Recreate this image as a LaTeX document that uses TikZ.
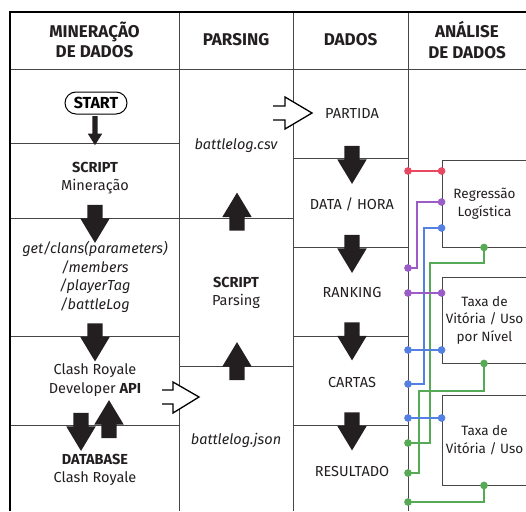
\documentclass[tikz,border=0pt]{standalone}
\usepackage{fontspec}
\setmainfont{Fira Sans}
\usetikzlibrary{shapes.arrows, arrows.meta, positioning, calc}
\definecolor{tDark}{RGB}{35, 31, 32}
\definecolor{tGrid}{RGB}{70, 70, 70}
\definecolor{lRed}{RGB}{232, 72, 96}
\definecolor{lPurple}{RGB}{156, 92, 200}
\definecolor{lBlue}{RGB}{84, 128, 226}
\definecolor{lGreen}{RGB}{86, 170, 86}

\begin{document}
\begin{tikzpicture}[
    x=1pt, y=-1pt,
    font=\fontsize{14.5}{18.5}\selectfont,
    head/.style={font=\fontsize{17}{20.5}\selectfont\bfseries, align=center, text=tDark},
    cell/.style={align=center, text=tDark},
    grid/.style={draw=tGrid, line width=0.9pt},
    frame/.style={draw=black, line width=2.4pt},
    startbox/.style={draw=black, line width=1pt, rounded corners=11pt,
        minimum width=62pt, minimum height=22pt, inner sep=0pt, font=\fontsize{16}{18}\selectfont\bfseries},
    bigarrow/.style={single arrow, fill=tDark, inner xsep=0pt, inner ysep=7.5pt,
        minimum height=38pt, minimum width=0pt, single arrow head extend=7pt,
        single arrow tip angle=62, rotate=#1},
    smallarrow/.style={single arrow, fill=tDark, inner xsep=0pt, inner ysep=2.5pt,
        minimum height=29pt, minimum width=0pt, single arrow head extend=4.5pt,
        single arrow tip angle=64, rotate=#1},
    hollow/.style={draw=black, fill=white, line width=1.3pt, line join=miter},
    resbox/.style={draw=tGrid, line width=0.9pt, align=center, text=tDark,
        minimum width=85pt, inner xsep=0pt, font=\fontsize{13.5}{17.5}\selectfont},
    link/.style={draw=#1, line width=1.9pt, {Circle[length=7.5pt]}-{Circle[length=7.5pt]},
        shorten <=-3.75pt, shorten >=-3.75pt}
]

\useasboundingbox (0,0) rectangle (526,511);
\clip (0,0) rectangle (526,511);

% Grid
\draw[grid] (10,69) -- (526,69);
\draw[grid] (179,12) -- (179,511);
\draw[grid] (293,12) -- (293,511);
\draw[grid] (408,12) -- (408,511);
\foreach \y in {143, 218, 336, 425} \draw[grid] (10,\y) -- (179,\y);
\foreach \y in {218, 366} \draw[grid] (179,\y) -- (293,\y);
\foreach \y in {158, 247, 336, 425} \draw[grid] (293,\y) -- (408,\y);
\draw[frame] (10,511) -- (10,12) -- (526,12);

% Headers
\node[head] (hMin) at (94.5,40) {MINERAÇÃO\\DE DADOS};
\node[head] (hPars) at (236,40) {PARSING};
\node[head] (hDados) at (350.5,40) {DADOS};
\node[head] (hAnal) at (467,40) {ANÁLISE\\DE DADOS};

% Mineracao de dados
\node[startbox] (start) at (96,103) {START};
\node[cell] (scrMin) at (95,178) {\textbf{SCRIPT}\\Mineração};
\node[cell, font=\fontsize{14.5}{18.5}\selectfont\itshape] (getClans) at (95,277)
    {get/clans(parameters)\\/members\\/playerTag\\/battleLog};
\node[cell] (api) at (95,380) {Clash Royale\\Developer \textbf{API}};
\node[cell] (dbase) at (95,470) {\textbf{DATABASE}\\Clash Royale};

\node[smallarrow=-90] (arrStart) at (95,128.5) {};
\node[bigarrow=-90] (arrMin) at (95,217.5) {};
\node[bigarrow=-90] (arrApi) at (95,336) {};
\node[bigarrow=-90] (arrDb) at (81,425.5) {};
\node[bigarrow=90] (arrUpDb) at (109,425.5) {};

% Parsing
\node[cell, font=\fontsize{14.5}{18.5}\selectfont\itshape] (csv) at (236,146) {battlelog.csv};
\node[cell] (scrPars) at (236,293) {\textbf{SCRIPT}\\Parsing};
\node[cell, font=\fontsize{14.5}{18.5}\selectfont\itshape] (json) at (236,440) {battlelog.json};

\node[bigarrow=90] (arrCsv) at (237,218) {};
\node[bigarrow=90] (arrPars) at (237,367.5) {};

% Dados
\node[cell] (partida) at (352,114) {PARTIDA};
\node[cell] (dataHora) at (352,204) {DATA / HORA};
\node[cell] (ranking) at (352,292) {RANKING};
\node[cell] (cartas) at (352,382) {CARTAS};
\node[cell] (resultado) at (352,471) {RESULTADO};

\node[bigarrow=-90] (arrHora) at (352,158.5) {};
\node[bigarrow=-90] (arrRank) at (352,247.5) {};
\node[bigarrow=-90] (arrCart) at (352,335) {};
\node[bigarrow=-90] (arrRes) at (352,425) {};

% hollow arrows
\draw[hollow] (273,106) -- (285,106) -- (285,97) -- (312,113) -- (285,129) -- (285,120) -- (273,120);
\draw[hollow] (162,390) -- (173,390) -- (173,382) -- (199,397) -- (173,413) -- (173,404) -- (162,404);

% Analise de dados
\node[resbox, minimum height=87pt] (regLog) at (484.5,203.5) {Regressão\\Logística};
\node[resbox, minimum height=86pt] (taxaNivel) at (484.5,320) {Taxa de\\Vitória / Uso\\por Nível};
\node[resbox, minimum height=90pt] (taxaUso) at (484.5,440) {Taxa de\\Vitória / Uso};

\coordinate (pRed) at (408,171);
\coordinate (pPur1) at (408,268);
\coordinate (pPur2) at (408,293);
\coordinate (pBlu1) at (408,384);
\coordinate (pBlu2) at (408,350);
\coordinate (pBlu3) at (408,418);
\coordinate (pGre1) at (408,443);
\coordinate (pGre2) at (408,473);
\coordinate (pGre3) at (408,502);

\draw[link=lRed] (pRed) -- (pRed -| regLog.west);
\draw[link=lPurple] (pPur1) -- ++(9,0) |- (regLog.west |- 0,202);
\draw[link=lBlue] (pBlu1) -- ++(16,0) |- (regLog.west |- 0,228);
\draw[link=lGreen] (pGre1) -- ++(22,0) |- (484,263) -- (484,0 |- regLog.south);
\draw[link=lPurple] (pPur2) -- (pPur2 -| taxaNivel.west);
\draw[link=lBlue] (pBlu2) -- (pBlu2 -| taxaNivel.west);
\draw[link=lGreen] (pGre2) -- ++(11,0) |- (484,391) -- (484,0 |- taxaNivel.south);
\draw[link=lBlue] (pBlu3) -- (pBlu3 -| taxaUso.west);
\draw[link=lGreen] (pGre3) -| (484,0 |- taxaUso.south);

\end{tikzpicture}
\end{document}
